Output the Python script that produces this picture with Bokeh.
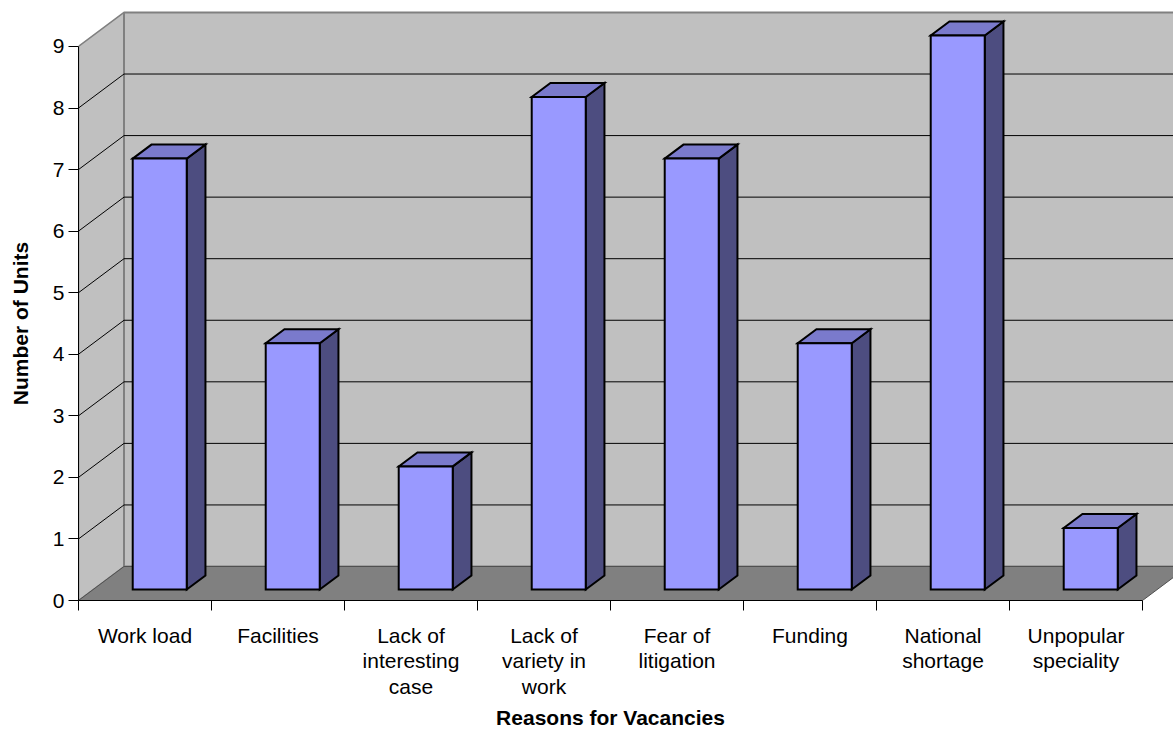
import math

from bokeh.core.properties import value
from bokeh.embed import file_html
from bokeh.models import FixedTicker, LinearAxis, Range1d
from bokeh.plotting import figure
from bokeh.resources import INLINE

# ---- data -------------------------------------------------------------
categories = [
    "Work load",
    "Facilities",
    "Lack of\ninteresting\ncase",
    "Lack of\nvariety in\nwork",
    "Fear of\nlitigation",
    "Funding",
    "National\nshortage",
    "Unpopular\nspeciality",
]
units = [7, 4, 2, 8, 7, 4, 9, 1]
y_ticks = [0, 1, 2, 3, 4, 5, 6, 7, 8, 9]
y_title = "Number of Units"
x_title = "Reasons for Vacancies"

# ---- pseudo-3D projection settings (data units) -----------------------
PX_PER_CAT = 133.0          # pixels per category along x
PX_PER_UNIT = 61.56         # pixels per unit along y
DEPTH_X = 45.5 / PX_PER_CAT  # wall depth, horizontal component
DEPTH_Y = 34.0 / PX_PER_UNIT  # wall depth, vertical component
BAR_W = 54.0 / PX_PER_CAT    # width of a bar's front face
BAR_T0 = 11.0 / 34.0         # front face of the bars, fraction of depth
BAR_T1 = 25.0 / 34.0         # back face of the bars, fraction of depth
Y_MAX = max(y_ticks)
N = len(categories)

FONT = "Liberation Sans"
WALL = "#c0c0c0"
FLOOR = "#808080"
EDGE = "#808080"
BAR_FRONT = "#9999ff"
BAR_TOP = "#7a7acc"
BAR_SIDE = "#4d4d80"

p = figure(
    width=1173,
    height=735,
    x_range=Range1d(0, 1095 / PX_PER_CAT),
    y_range=Range1d(0, 600 / PX_PER_UNIT),
    x_axis_type=None,
    y_axis_type=None,
    output_backend="svg",
    toolbar_location=None,
    min_border_left=78,
    min_border_right=0,
    min_border_top=0,
    min_border_bottom=135,
)
p.outline_line_color = None
p.background_fill_color = "white"

# ---- walls and floor --------------------------------------------------
p.patch([0, DEPTH_X, DEPTH_X, 0], [0, DEPTH_Y, Y_MAX + DEPTH_Y, Y_MAX],
        fill_color=WALL, line_color=EDGE, line_width=1.5)
p.patch([DEPTH_X, N + DEPTH_X, N + DEPTH_X, DEPTH_X],
        [DEPTH_Y, DEPTH_Y, Y_MAX + DEPTH_Y, Y_MAX + DEPTH_Y],
        fill_color=WALL, line_color=EDGE, line_width=2)
p.patch([0, N, N + DEPTH_X, DEPTH_X], [0, 0, DEPTH_Y, DEPTH_Y],
        fill_color=FLOOR, line_color="#505050", line_width=1)

# gridlines on the back wall and on the side wall
grid_vals = [v for v in y_ticks if 0 < v < Y_MAX]
p.segment(x0=[DEPTH_X] * len(grid_vals), y0=[v + DEPTH_Y for v in grid_vals],
          x1=[N + DEPTH_X] * len(grid_vals), y1=[v + DEPTH_Y for v in grid_vals],
          line_color="black", line_width=1)
p.segment(x0=[0] * len(grid_vals), y0=grid_vals,
          x1=[DEPTH_X] * len(grid_vals), y1=[v + DEPTH_Y for v in grid_vals],
          line_color="black", line_width=1)

# ---- bars -------------------------------------------------------------
ox, oy = BAR_T0 * DEPTH_X, BAR_T0 * DEPTH_Y
bx, by = (BAR_T1 - BAR_T0) * DEPTH_X, (BAR_T1 - BAR_T0) * DEPTH_Y
front_xs, front_ys, top_xs, top_ys, side_xs, side_ys = [], [], [], [], [], []
for i, v in enumerate(units):
    x0 = i + 0.5 - BAR_W / 2 + ox
    x1 = x0 + BAR_W
    y0 = oy
    y1 = oy + v
    front_xs.append([x0, x1, x1, x0])
    front_ys.append([y0, y0, y1, y1])
    top_xs.append([x0, x1, x1 + bx, x0 + bx])
    top_ys.append([y1, y1, y1 + by, y1 + by])
    side_xs.append([x1, x1 + bx, x1 + bx, x1])
    side_ys.append([y0, y0 + by, y1 + by, y1])

bar_style = dict(line_color="black", line_width=2, line_join="miter")
p.patches(side_xs, side_ys, fill_color=BAR_SIDE, **bar_style)
p.patches(top_xs, top_ys, fill_color=BAR_TOP, **bar_style)
p.patches(front_xs, front_ys, fill_color=BAR_FRONT, **bar_style)

# ---- axes -------------------------------------------------------------
yaxis = LinearAxis(
    ticker=FixedTicker(ticks=y_ticks, minor_ticks=[]),
    bounds=(0, Y_MAX),
    axis_line_color="black",
    major_tick_line_color="black",
    major_tick_out=10,
    major_tick_in=0,
    minor_tick_out=0,
    minor_tick_in=0,
    major_label_standoff=4,
    major_label_text_font=FONT,
    major_label_text_font_size="21px",
    major_label_text_color="black",
)
p.add_layout(yaxis, "left")

centers = [i + 0.5 for i in range(N)]
xaxis = LinearAxis(
    ticker=FixedTicker(ticks=centers, minor_ticks=list(range(N + 1))),
    bounds=(0, N),
    axis_line_color="black",
    major_tick_out=0,
    major_tick_in=0,
    minor_tick_line_color="black",
    minor_tick_out=10,
    minor_tick_in=0,
    major_label_standoff=13,
    major_label_overrides={c: name for c, name in zip(centers, categories)},
    major_label_text_font=FONT,
    major_label_text_font_size="21px",
    major_label_text_color="black",
    major_label_text_line_height=1.13,
)
p.add_layout(xaxis, "below")

# axis titles, drawn on the overlay level so they may sit outside the frame
title_style = dict(text_align="center", text_baseline="middle",
                   text_font=value(FONT), text_font_style="bold",
                   text_font_size="21px", text_color="black", level="overlay")
p.text(x=[-58 / PX_PER_CAT], y=[Y_MAX / 2], text=[y_title],
       angle=math.pi / 2, **title_style)
p.text(x=[N / 2], y=[-117 / PX_PER_UNIT], text=[x_title], **title_style)

open("out.html", "w").write(file_html(p, INLINE))
